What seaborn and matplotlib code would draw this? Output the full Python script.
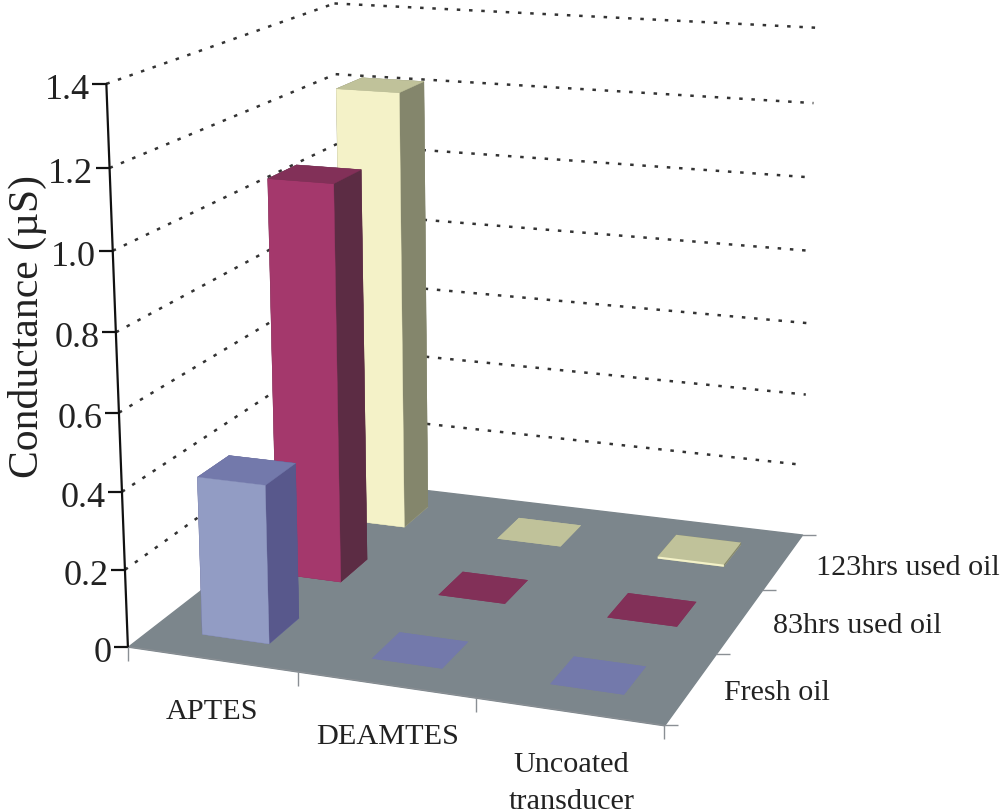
import numpy as np
import matplotlib
matplotlib.use("Agg")
import matplotlib.pyplot as plt
from matplotlib.axes import Axes
from matplotlib.markers import TICKLEFT, TICKRIGHT, TICKDOWN
from mpl_toolkits.mplot3d import proj3d
from mpl_toolkits.mplot3d.art3d import Poly3DCollection
import seaborn as sns

coatings = ["APTES", "DEAMTES", "Uncoated\ntransducer"]
oils = ["Fresh oil", "83hrs used oil", "123hrs used oil"]
fresh = [0.41, 0.0, 0.0]
used83 = [1.065, 0.0, 0.0]
used123 = [1.22, 0.0, 0.006]
ticks = [0, 0.2, 0.4, 0.6, 0.8, 1.0, 1.2, 1.4]

W, H = 1000, 812
sns.set_theme(style="white")
plt.rcParams["font.family"] = ["Liberation Serif", "DejaVu Serif"]

# camera calibration: axis positions -> picture positions
calib = [
    ((0, 0, 0), (128, 647)), ((1, 0, 0), (297, 673)), ((2, 0, 0), (476, 700)),
    ((3, 0, 0), (664, 726)), ((3, 1, 0), (718, 653)), ((3, 2, 0), (763, 590)),
    ((3, 3, 0), (802, 536)), ((0, 3, 0), (342, 481)), ((0, 0, 1.4), (107, 88)),
    ((0, 0, 1.0), (112, 250)), ((0, 0, 0.6), (118, 413)), ((0, 0, 0.2), (125, 571)),
    ((3, 3, 1.4), (815, 25)), ((3, 3, 1.0), (811, 182)), ((3, 3, 0.6), (806, 326)),
    ((0, 3, 1.4), (335, 1)), ((0, 3, 1.2), (337, 78)),
]
A, b = [], []
for (x, y, z), (u, v) in calib:
    v = H - v
    A.append([x, y, z, 1, 0, 0, 0, 0, -u * x, -u * y, -u * z]); b.append(u)
    A.append([0, 0, 0, 0, x, y, z, 1, -v * x, -v * y, -v * z]); b.append(v)
p = np.linalg.lstsq(np.array(A, float), np.array(b, float), rcond=None)[0]
M = np.array([[*p[:4]], [*p[4:8]], [-0.4, 1.0, -0.5, 0.0], [*p[8:], 1.0]])

fig = plt.figure(figsize=(W / 100, H / 100), dpi=100, facecolor="white")
ax = fig.add_axes([0, 0, 1, 1], projection="3d", computed_zorder=False)
ax.apply_aspect = lambda position=None, **k: None
ax.get_proj = lambda: M
ax.set_axis_off()
ax.set_autoscale_on(False)
ax.viewLim.intervalx = (0, W)
ax.viewLim.intervaly = (0, H)


def pos(x, y, z):
    u, v, _ = proj3d.proj_transform(np.asarray(x, float), np.asarray(y, float),
                                    np.asarray(z, float), M)
    return u, v


def line3(x, y, z, **kw):
    u, v = pos(x, y, z)
    Axes.plot(ax, u, v, **kw)


n = len(coatings)
m = len(oils)
dots = dict(color="#333333", lw=1.8, ls=(0, (1.4, 3.5)), zorder=1)
for t in ticks[1:]:
    line3([0, 0], [0, m], [t, t], **dots)
    line3([0, n], [m, m], [t, t], **dots)

floor = Poly3DCollection([[(0, 0, 0), (n, 0, 0), (n, m, 0), (0, m, 0)]],
                         facecolors="#7c868c", edgecolors="#7c868c", zorder=2)
ax.add_collection3d(floor)

# faces: bottom, top, front, back, left, right
blue = ["#7379ab", "#7379ab", "#929cc4", "#58588c", "#58588c", "#58588c"]
pink = ["#823058", "#823058", "#a4386c", "#5c2c44", "#5c2c44", "#5c2c44"]
cream = ["#c0c29a", "#c0c29a", "#f4f2c8", "#84866c", "#84866c", "#84866c"]
series = [(used123, cream, 2), (used83, pink, 1), (fresh, blue, 0)]
bx, by, bw, bd = 0.30, 0.30, 0.40, 0.40
for vals, faces, j in series:
    for i, val in enumerate(vals):
        ax.bar3d(i + bx, j + by, 0, bw, bd, val, color=faces, edgecolors=faces,
                 linewidth=0.3 if val > 0.1 else 0, shade=False, zorder=5 + (m - j))

line3([0, 0], [0, 0], [0, ticks[-1]], color="#111111", lw=1.6, zorder=20)
zeros = [0] * len(ticks)
line3(zeros, zeros, ticks, ls="", marker=TICKLEFT, ms=10, mew=1.6, color="#111111", zorder=20)
xt = np.arange(n + 1)
yt = np.arange(m + 1)
line3([0, n], [0, 0], [0, 0], color="#8a8f94", lw=0.8, zorder=3)
line3(xt, 0 * xt, 0 * xt, ls="", marker=TICKDOWN, ms=10, mew=1, color="#8a8f94", zorder=20)
line3(n + 0 * yt, yt, 0 * yt, ls="", marker=TICKRIGHT, ms=10, mew=1, color="#8a8f94", zorder=20)

txt = dict(color="#222222", annotation_clip=False, textcoords="offset points", zorder=30)
for t in ticks:
    ax.annotate(f"{t:g}" if t == 0 else f"{t:.1f}", pos(0, 0, t), xytext=(-12, -4),
                ha="right", va="center", fontsize=26, **txt)
for i, (name, off) in enumerate(zip(coatings, [(0, -28), (1, -28), (2, -28.5)])):
    ax.annotate(name, pos(i + 0.5, 0, 0), xytext=off, ha="center", va="top",
                fontsize=21.8, linespacing=1.55, **txt)
for j, (name, off) in enumerate(zip(oils, [(24, -3), (24, -3), (24.3, -4)])):
    ax.annotate(name, pos(n, j + 0.5, 0), xytext=off, ha="left", va="center", fontsize=21.6, **txt)

fig.text(27 / W, 1 - 327 / H, "Conductance (µS)", rotation=90, ha="center", va="center",
         fontsize=30, color="#222222")

fig.savefig("out.png", dpi=100)
